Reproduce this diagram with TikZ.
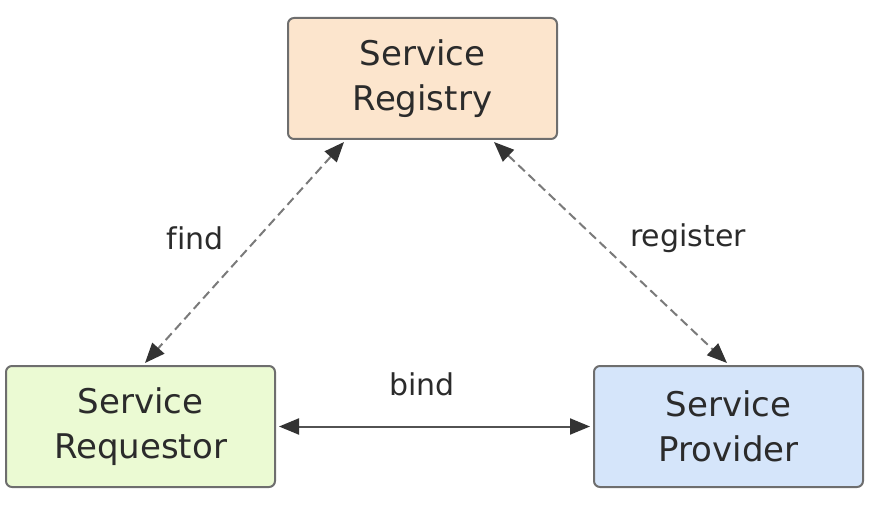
\documentclass[tikz,border=0pt]{standalone}
\usepackage{fontspec}
\setmainfont[Ligatures=NoCommon]{DejaVu Sans}
\usetikzlibrary{arrows.meta}
\definecolor{peach}{HTML}{FCE5CD}
\definecolor{lgreen}{HTML}{EBFAD3}
\definecolor{lblue}{HTML}{D5E5FA}
\definecolor{bordergray}{HTML}{6E6E6E}
\definecolor{txt}{HTML}{2B2B2B}
\definecolor{dashgray}{HTML}{7A7A7A}
\definecolor{tipdark}{HTML}{333333}
\begin{document}
\begin{tikzpicture}[x=1pt,y=-1pt,
  box/.style={draw=bordergray, line width=2pt, rounded corners=6pt,
    minimum width=269pt, minimum height=121pt, inner sep=0pt,
    align=center, text=txt, font=\fontsize{34}{45}\selectfont},
  lbl/.style={text=txt, font=\fontsize{30}{34}\selectfont, inner sep=0pt},
  dasharrow/.style={draw=dashgray, line width=2pt, dash pattern=on 9pt off 5pt,
    {Triangle[length=20pt,width=16pt,color=tipdark,fill=tipdark]}-{Triangle[length=20pt,width=16pt,color=tipdark,fill=tipdark]}},
  solidarrow/.style={draw=tipdark!85, line width=2pt,
    {Triangle[length=20pt,width=16pt,color=tipdark,fill=tipdark]}-{Triangle[length=20pt,width=16pt,color=tipdark,fill=tipdark]}}
]
\useasboundingbox (0,0) rectangle (873,513);
\node[box, fill=peach] (reg) at (422.5,78.5) {Service\\Registry};
\node[box, fill=lgreen] (req) at (140.5,426.5) {Service\\Requestor};
\node[box, fill=lblue] (prov) at (728.5,426.5) {Service\\Provider};
\coordinate (a1) at ([xshift=-78.5pt,yshift=-2pt]reg.south);
\coordinate (a2) at ([xshift=4.5pt,yshift=2pt]req.north);
\coordinate (b1) at ([xshift=71.5pt,yshift=-2pt]reg.south);
\coordinate (b2) at ([xshift=-1.5pt,yshift=2pt]prov.north);
\coordinate (c1) at ([xshift=3pt]req.east);
\coordinate (c2) at ([xshift=-3pt]prov.west);
\draw[dasharrow] (a1) -- (a2);
\draw[dasharrow] (b1) -- (b2);
\draw[solidarrow] (c1) -- (c2);
\node[lbl] (find) at (195,238) {find};
\node[lbl] (register) at (688,238) {register};
\node[lbl] (bind) at (422,384) {bind};
\end{tikzpicture}
\end{document}
